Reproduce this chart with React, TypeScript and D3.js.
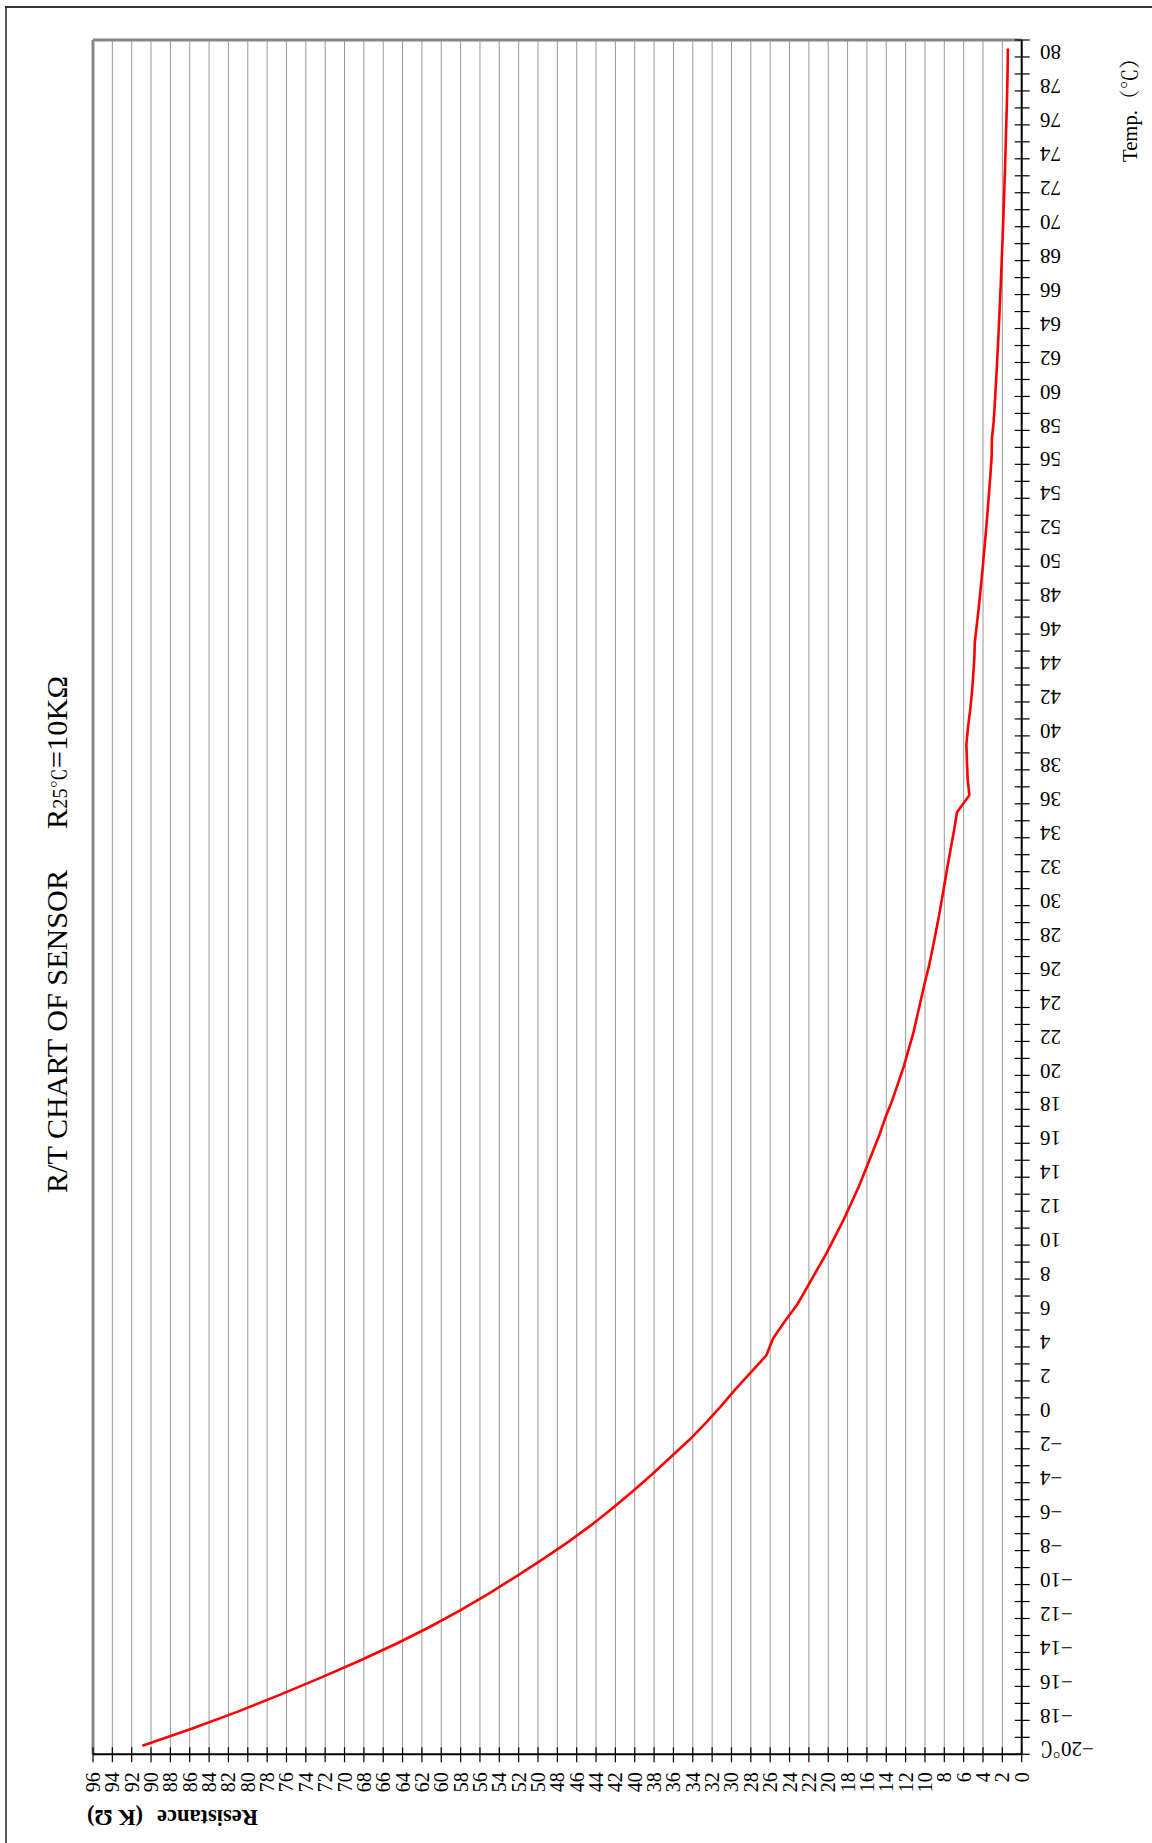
import React, {useEffect, useRef} from "react";
import * as d3 from "d3";

// temperature categories (°C), one point per degree
const temps: number[] = d3.range(-20, 81)

// resistance (kΩ), -20 .. 80 °C
const resistance: number[] = [
    90.9, 85.8, 81.1, 76.7, 72.5, 68.5, 64.7, 61.2, 58.0, 55.0,   // -20 .. -11
    52.2, 49.5, 46.9, 44.5, 42.3, 40.2, 38.2, 36.3, 34.4, 32.7,   // -10 .. -1
    31.1, 29.6, 28.0, 26.4, 25.7, 24.5, 23.2, 22.2, 21.2, 20.2,   // 0 .. 9
    19.3, 18.4, 17.6, 16.8, 16.1, 15.4, 14.7, 14.1, 13.4, 12.8,   // 10 .. 19
    12.2, 11.7, 11.2, 10.8, 10.4, 10.0, 9.56, 9.20, 8.85, 8.52,   // 20 .. 29
    8.21, 7.91, 7.61, 7.29, 6.97, 6.69, 5.41, 5.59, 5.66, 5.72,   // 30 .. 39
    5.55, 5.33, 5.15, 5.02, 4.90, 4.85, 4.65, 4.45, 4.27, 4.10,   // 40 .. 49
    3.94, 3.78, 3.63, 3.49, 3.35, 3.22, 3.10, 3.08, 2.90, 2.79,   // 50 .. 59
    2.69, 2.59, 2.50, 2.41, 2.33, 2.25, 2.17, 2.10, 2.03, 1.96,   // 60 .. 69
    1.90, 1.84, 1.78, 1.72, 1.67, 1.62, 1.57, 1.52, 1.48, 1.45,   // 70 .. 79
    1.43                                                          // 80
]

// labelled temperatures and resistance ticks
const tempLabels: number[] = temps.filter(t => t % 2 === 0)
const resTicks: number[] = d3.range(0, 97, 2)

const W = 1152
const H = 1843
const plot = {left: 93, right: 1021.7, top: 40, bottom: 1754.3}
const serif = "'Liberation Serif', 'Times New Roman', 'Noto Serif CJK SC', serif"

const App = () => {
    const svgRef = useRef<SVGSVGElement>(null)

    useEffect(() => {
        const svg = d3.select(svgRef.current)
        svg.selectAll("*").remove()

        const x = d3.scaleLinear().domain([0, 96]).range([plot.right, plot.left])
        const y = d3.scaleBand<number>().domain(temps).range([plot.bottom, plot.top])
        const yc = (t: number) => (y(t) as number) + y.bandwidth() / 2

        // outer frame (only top and left visible)
        svg.append("line").attr("x1", 5).attr("x2", W).attr("y1", 7).attr("y2", 7)
            .attr("stroke", "#333").attr("stroke-width", 2)
        svg.append("line").attr("x1", 6).attr("x2", 6).attr("y1", 7).attr("y2", H)
            .attr("stroke", "#222").attr("stroke-width", 1.5)

        // vertical grid
        svg.append("g")
            .selectAll("line")
            .data(resTicks.filter(v => v > 0 && v < 96))
            .join("line")
            .attr("x1", d => x(d)).attr("x2", d => x(d))
            .attr("y1", plot.top).attr("y2", plot.bottom)
            .attr("stroke", "#999").attr("stroke-width", 1)

        // plot border top / left
        svg.append("line").attr("x1", plot.left).attr("x2", plot.right)
            .attr("y1", plot.top).attr("y2", plot.top)
            .attr("stroke", "#888").attr("stroke-width", 3)
        svg.append("line").attr("x1", plot.left).attr("x2", plot.left)
            .attr("y1", plot.top).attr("y2", plot.bottom)
            .attr("stroke", "#888").attr("stroke-width", 3)

        // resistance axis (bottom)
        const bx = svg.append("g")
        bx.append("line").attr("x1", plot.left).attr("x2", plot.right)
            .attr("y1", plot.bottom).attr("y2", plot.bottom)
            .attr("stroke", "#000").attr("stroke-width", 2)
        bx.selectAll(".tick")
            .data(resTicks)
            .join("line")
            .attr("class", "tick")
            .attr("x1", d => x(d)).attr("x2", d => x(d))
            .attr("y1", plot.bottom - 7).attr("y2", plot.bottom + 8)
            .attr("stroke", "#000").attr("stroke-width", 1.2)
        bx.selectAll("text")
            .data(resTicks)
            .join("text")
            .attr("transform", d => `translate(${x(d)},${plot.bottom + 18}) rotate(-90)`)
            .attr("dy", "0.35em")
            .attr("text-anchor", "end")
            .attr("font-family", serif)
            .attr("font-size", 20)
            .attr("fill", "#000")
            .text(d => d)

        // temperature axis (right), ticks between categories
        const ry = svg.append("g")
        ry.append("line").attr("x1", plot.right).attr("x2", plot.right)
            .attr("y1", plot.top).attr("y2", plot.bottom)
            .attr("stroke", "#000").attr("stroke-width", 2)
        const bounds = temps.map(t => y(t) as number).concat([plot.bottom])
        ry.selectAll(".tick")
            .data(bounds)
            .join("line")
            .attr("class", "tick")
            .attr("x1", plot.right - 7).attr("x2", plot.right + 8)
            .attr("y1", d => d).attr("y2", d => d)
            .attr("stroke", "#000").attr("stroke-width", 1.2)
        ry.selectAll("text")
            .data(tempLabels)
            .join("text")
            .attr("transform", d => `translate(1040,${yc(d) + 4}) rotate(180)`)
            .attr("dy", "0.35em")
            .attr("text-anchor", "end")
            .attr("font-family", serif)
            .attr("font-size", 21)
            .attr("fill", "#000")
            .text(d => d === -20 ? "−20℃" : d < 0 ? `−${-d}` : `${d}`)

        // the R/T curve
        const line = d3.line<number>()
            .x((d, i) => x(resistance[i]))
            .y(d => yc(d))
        svg.append("path")
            .datum(temps)
            .attr("d", line)
            .attr("fill", "none")
            .attr("stroke", "#ff0000")
            .attr("stroke-width", 2.6)
            .attr("stroke-linejoin", "round")

        // title
        svg.append("text")
            .attr("transform", "translate(67,1193) rotate(-90)")
            .attr("font-family", serif)
            .attr("font-size", 30)
            .attr("textLength", 323)
            .attr("lengthAdjust", "spacingAndGlyphs")
            .text("R/T CHART OF SENSOR")
        const sub = svg.append("text")
            .attr("transform", "translate(67,829) rotate(-90)")
            .attr("font-family", serif)
            .attr("font-size", 30)
            .attr("textLength", 153)
            .attr("lengthAdjust", "spacingAndGlyphs")
        sub.append("tspan").text("R")
        sub.append("tspan").attr("font-size", 20).text("25℃")
        sub.append("tspan").text("=10KΩ")

        // axis titles
        svg.append("text")
            .attr("transform", "translate(1137,162) rotate(-90)")
            .attr("font-family", serif)
            .attr("font-size", 21)
            .attr("textLength", 114)
            .attr("lengthAdjust", "spacingAndGlyphs")
            .text("Temp.（℃）")
        svg.append("text")
            .attr("transform", "translate(258,1810) rotate(180)")
            .attr("font-family", serif)
            .attr("font-size", 24)
            .attr("font-weight", "bold")
            .attr("textLength", 101)
            .attr("lengthAdjust", "spacingAndGlyphs")
            .text("Resistance")
        svg.append("text")
            .attr("transform", "translate(143,1810) rotate(180)")
            .attr("font-family", serif)
            .attr("font-size", 24)
            .attr("font-weight", "bold")
            .attr("textLength", 56)
            .attr("lengthAdjust", "spacingAndGlyphs")
            .text("(K Ω)")
    }, [])

    return (
        <svg ref={svgRef} width={W} height={H}
             style={{position: "absolute", left: 0, top: 0, background: "#fff"}}/>
    )
}

export default App
